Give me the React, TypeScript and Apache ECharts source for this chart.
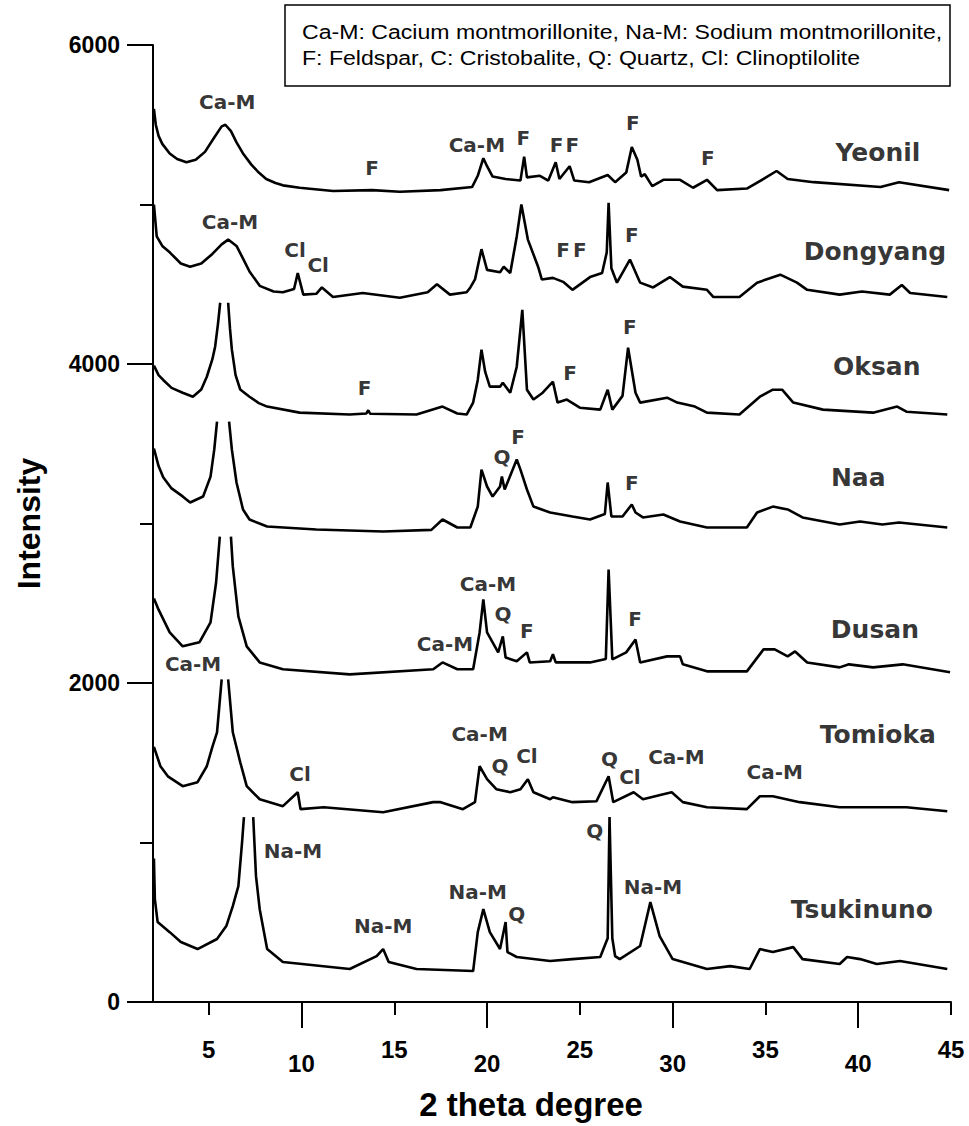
import React, { useEffect, useRef } from "react";
import * as echarts from "echarts";

const FONT = "'Liberation Sans', Arial, Helvetica, sans-serif";
const LABEL_FONT = "'DejaVu Sans', 'Liberation Sans', Arial, sans-serif";

type Pt = [number, number | null];

const yeonil: Pt[] = [
  [2.05, 5600], [2.15, 5500], [2.3, 5430], [2.5, 5380], [2.9, 5320], [3.3, 5285], [3.8, 5265], [4.3, 5280],
  [4.8, 5330], [5.3, 5420], [5.7, 5490], [5.9, 5500], [6.2, 5460], [6.5, 5390], [6.85, 5320],
  [7.3, 5250], [7.7, 5200], [8.1, 5160], [8.6, 5135], [9.0, 5120], [9.9, 5105], [11.7, 5085], [13.8, 5090], [15.3, 5080],
  [17.5, 5090], [19.2, 5110], [19.5, 5180], [19.8, 5290], [20.0, 5240], [20.3, 5175], [21.0, 5160],
  [21.8, 5150], [22.0, 5300], [22.15, 5170], [22.85, 5180], [23.3, 5150], [23.7, 5265], [23.9, 5160],
  [24.45, 5240], [24.7, 5150], [25.5, 5140], [26.5, 5185], [26.9, 5140], [27.5, 5200], [27.8, 5360],
  [28.1, 5280], [28.3, 5175], [28.5, 5190], [28.9, 5115], [29.5, 5155], [30.4, 5155], [31.1, 5105],
  [31.85, 5155], [32.4, 5090], [34.0, 5100], [34.9, 5160], [35.6, 5210], [36.2, 5160], [37.6, 5140],
  [41.2, 5110], [42.2, 5140], [44.9, 5090],
];

const dongyang: Pt[] = [
  [2.05, 5000], [2.2, 4800], [2.5, 4740], [2.9, 4700], [3.5, 4630], [4.0, 4610], [4.6, 4630], [5.2, 4690],
  [5.7, 4750], [6.05, 4780], [6.5, 4740], [6.9, 4650], [7.2, 4580], [7.75, 4490], [8.5, 4455], [9.0, 4450],
  [9.6, 4470], [9.8, 4570], [10.1, 4435], [10.8, 4440], [11.1, 4480], [11.7, 4420], [13.3, 4445],
  [15.3, 4415], [16.8, 4450], [17.3, 4500], [18.0, 4435], [18.9, 4450], [19.1, 4480], [19.35, 4530],
  [19.7, 4720], [20.0, 4590], [20.7, 4575], [20.9, 4610], [21.25, 4570], [21.6, 4800], [21.85, 5000],
  [22.2, 4780], [22.75, 4610], [22.95, 4530], [23.55, 4540], [24.1, 4515], [24.6, 4465], [25.55, 4545],
  [26.2, 4570], [26.45, 4700], [26.55, 5010], [26.7, 4600], [27.0, 4510], [27.7, 4655], [28.25, 4510],
  [28.95, 4480], [29.85, 4545], [30.55, 4485], [31.85, 4465], [32.2, 4420], [33.6, 4420], [34.55, 4510],
  [35.8, 4560], [36.7, 4510], [37.25, 4465], [39.0, 4435], [40.2, 4455], [41.7, 4435], [42.35, 4495],
  [42.8, 4445], [44.8, 4420],
];

const oksan: Pt[] = [
  [2.05, 3990], [2.3, 3930], [2.55, 3900], [3.0, 3850], [3.6, 3820], [4.15, 3795], [4.6, 3840], [4.9, 3920],
  [5.2, 4030], [5.35, 4110], [5.5, 4250], [5.62, 4384], [5.8, null], [6.05, 4384], [6.15, 4220],
  [6.25, 4090], [6.45, 3930], [6.7, 3840], [7.2, 3795], [7.7, 3755], [8.15, 3733], [9.9, 3695], [12.6, 3683],
  [13.5, 3690], [13.6, 3710], [13.7, 3688], [16.2, 3683], [17.6, 3733], [18.4, 3690], [18.9, 3683],
  [19.25, 3758], [19.5, 3900], [19.7, 4090], [19.9, 3950], [20.15, 3858], [20.7, 3858], [20.85, 3883],
  [21.25, 3820], [21.6, 3983], [21.9, 4340], [22.15, 3839], [22.5, 3777], [23.0, 3820], [23.55, 3889],
  [23.8, 3758], [24.3, 3777], [25.0, 3726], [26.1, 3714], [26.5, 3839], [26.75, 3714], [27.3, 3800],
  [27.6, 4102], [28.0, 3820], [28.25, 3758], [29.7, 3789], [30.25, 3758], [31.2, 3733], [31.85, 3695],
  [33.6, 3683], [34.7, 3795], [35.4, 3839], [35.9, 3839], [36.5, 3758], [38.1, 3714], [40.8, 3695],
  [42.1, 3733], [42.6, 3701], [44.8, 3683],
];

const naa: Pt[] = [
  [2.05, 3470], [2.3, 3360], [2.55, 3290], [3.0, 3220], [3.6, 3170], [4.0, 3132], [4.7, 3169], [5.1, 3294], [5.3, 3463],
  [5.45, 3639], [5.8, null], [6.1, 3639], [6.25, 3463], [6.5, 3257], [6.85, 3088], [7.2, 3025],
  [8.15, 2981], [10.8, 2962], [14.4, 2950], [17.0, 2960], [17.6, 3025], [18.4, 2975], [19.1, 2975],
  [19.5, 3106], [19.7, 3338], [20.0, 3232], [20.3, 3169], [20.7, 3232], [20.8, 3294], [20.95, 3213],
  [21.6, 3401], [21.8, 3338], [22.15, 3213], [22.5, 3106], [23.4, 3069], [24.6, 3044], [25.55, 3025],
  [26.35, 3060], [26.5, 3257], [26.7, 3044], [27.3, 3044], [27.8, 3119], [28.0, 3069], [28.4, 3038],
  [29.5, 3056], [30.4, 3013], [31.85, 2975], [34.0, 2975], [34.55, 3069], [35.4, 3106], [36.2, 3088],
  [37.0, 3038], [39.0, 2994], [40.1, 3013], [41.3, 2994], [42.2, 3006], [44.8, 2975],
];

const dusan: Pt[] = [
  [2.05, 2530], [2.3, 2460], [2.9, 2317], [3.6, 2230], [4.5, 2255], [5.1, 2380], [5.4, 2630],
  [5.6, 2918], [5.9, null], [6.2, 2918], [6.3, 2731], [6.6, 2418], [7.05, 2230], [7.75, 2129],
  [9.0, 2086], [12.6, 2054], [17.1, 2086], [17.6, 2129], [18.4, 2086], [19.25, 2086], [19.6, 2317],
  [19.8, 2524], [20.0, 2317], [20.6, 2192], [20.85, 2292], [21.0, 2160], [21.6, 2136], [22.15, 2192],
  [22.3, 2129], [23.4, 2136], [23.55, 2180], [23.7, 2129], [25.55, 2129], [26.4, 2150], [26.55, 2712],
  [26.75, 2148], [27.5, 2192], [28.0, 2273], [28.25, 2129], [29.7, 2167], [30.4, 2167], [30.55, 2117],
  [31.85, 2073], [34.0, 2073], [34.9, 2211], [35.5, 2211], [36.2, 2167], [36.6, 2198], [37.25, 2129],
  [39.0, 2098], [39.5, 2117], [40.8, 2098], [42.4, 2117], [44.95, 2067],
];

const tomioka: Pt[] = [
  [2.05, 1600], [2.4, 1478], [2.8, 1415], [3.6, 1353], [4.4, 1378], [4.9, 1478], [5.2, 1600],
  [5.45, 1691], [5.7, 2023], [5.9, null], [6.05, 2023], [6.3, 1691], [6.7, 1503], [7.05, 1353],
  [7.75, 1271], [9.0, 1228], [9.8, 1315], [9.95, 1209], [11.2, 1221], [14.4, 1190], [17.1, 1253],
  [17.5, 1253], [18.7, 1209], [19.35, 1253], [19.6, 1478], [20.0, 1397], [20.5, 1334], [21.25, 1315],
  [21.8, 1334], [22.2, 1397], [22.5, 1315], [23.4, 1271], [23.55, 1284], [24.6, 1253], [25.9, 1259],
  [26.55, 1415], [26.8, 1253], [27.9, 1315], [28.4, 1271], [29.5, 1303], [29.95, 1315], [30.55, 1253],
  [31.85, 1221], [34.0, 1209], [34.7, 1290], [35.4, 1290], [36.85, 1253], [39.0, 1221], [42.6, 1221],
  [44.8, 1196],
];

const tsukinuno: Pt[] = [
  [2.05, 900], [2.1, 645], [2.25, 501], [2.9, 438], [3.5, 376], [4.4, 332], [5.45, 395], [5.95, 476],
  [6.3, 601], [6.6, 727], [6.8, 1002], [6.9, 1159], [7.15, null], [7.4, 1159], [7.55, 789], [7.75, 582],
  [8.15, 332], [9.0, 251], [12.6, 207], [14.05, 288], [14.4, 332], [14.7, 251], [16.2, 207], [19.25, 194],
  [19.5, 438], [19.8, 582], [20.15, 438], [20.7, 332], [21.0, 501], [21.1, 313], [21.6, 282],
  [23.4, 257], [24.6, 269], [26.1, 282], [26.5, 400], [26.6, 1159], [26.75, 400], [26.9, 288],
  [27.15, 269], [28.25, 351], [28.8, 626], [29.3, 413], [30.0, 269], [31.85, 207], [33.1, 225],
  [34.15, 207], [34.7, 332], [35.4, 313], [36.5, 344], [37.0, 269], [39.0, 238], [39.4, 282],
  [40.1, 269], [41.0, 238], [42.25, 257], [44.8, 207],
];

// [2theta, intensity, text]
const peakLabels: [number, number, string][] = [
  [6.0, 5643, "Ca-M"], [13.8, 5230, "F"], [19.45, 5374, "Ca-M"], [21.95, 5417, "F"],
  [23.75, 5374, "F"], [24.6, 5374, "F"], [27.86, 5511, "F"], [31.9, 5292, "F"],
  [6.15, 4891, "Ca-M"], [9.65, 4716, "Cl"], [10.9, 4622, "Cl"], [24.1, 4716, "F"],
  [25.0, 4716, "F"], [27.8, 4810, "F"],
  [13.4, 3852, "F"], [24.47, 3946, "F"], [27.7, 4234, "F"],
  [20.8, 3420, "Q"], [21.67, 3545, "F"], [27.8, 3257, "F"],
  [17.73, 2242, "Ca-M"], [20.05, 2618, "Ca-M"], [20.86, 2430, "Q"], [22.15, 2324, "F"],
  [27.97, 2399, "F"],
  [4.16, 2117, "Ca-M"], [9.92, 1428, "Cl"], [19.6, 1678, "Ca-M"], [20.7, 1478, "Q"],
  [22.15, 1541, "Cl"], [26.6, 1522, "Q"], [27.7, 1409, "Cl"], [30.2, 1534, "Ca-M"],
  [35.5, 1440, "Ca-M"],
  [9.54, 946, "Na-M"], [14.4, 476, "Na-M"], [19.5, 689, "Na-M"], [21.6, 551, "Q"],
  [25.8, 1071, "Q"], [28.94, 720, "Na-M"],
];

const sampleLabels: [number, number, string][] = [
  [41.06, 5324, "Yeonil"], [40.9, 4703, "Dongyang"], [41.0, 3983, "Oksan"], [40.0, 3288, "Naa"],
  [40.9, 2336, "Dusan"], [41.06, 1678, "Tomioka"], [40.2, 582, "Tsukinuno"],
];

const legendLines = [
  "Ca-M: Cacium montmorillonite, Na-M: Sodium montmorillonite,",
  "F: Feldspar, C: Cristobalite, Q: Quartz, Cl: Clinoptilolite",
];

const xLabelsOdd = [5, 15, 25, 35, 45];
const xLabelsEven = [10, 20, 30, 40];

const curves: [string, Pt[]][] = [
  ["Yeonil", yeonil], ["Dongyang", dongyang], ["Oksan", oksan], ["Naa", naa],
  ["Dusan", dusan], ["Tomioka", tomioka], ["Tsukinuno", tsukinuno],
];

export default function App() {
  const ref = useRef<HTMLDivElement>(null);
  useEffect(() => {
    if (!ref.current) return;
    const chart = echarts.init(ref.current, undefined, { renderer: "svg" });
    const axisCommon = {
      type: "value" as const,
      min: 2,
      max: 45,
      position: "bottom" as const,
      splitLine: { show: false },
    };
    const option: any = {
      animation: false,
      backgroundColor: "#fff",
      grid: { left: 153, right: 18, top: 45, bottom: 123, containLabel: false },
      xAxis: [
        {
          ...axisCommon,
          name: "2 theta degree",
          nameLocation: "middle",
          nameGap: 86,
          nameTextStyle: {
            fontFamily: FONT, fontWeight: "bold", fontSize: 33, color: "#000",
            padding: [0, 42, 0, 0],
          },
          axisLine: { show: true, lineStyle: { color: "#000", width: 2 } },
          axisTick: { show: true, length: 13, customValues: xLabelsOdd, lineStyle: { color: "#000", width: 2 } },
          axisLabel: {
            show: true, customValues: xLabelsOdd, margin: 35,
            fontFamily: FONT, fontWeight: "bold", fontSize: 24, color: "#000",
          },
        },
        {
          ...axisCommon,
          axisLine: { show: false },
          axisTick: { show: true, length: 26, customValues: xLabelsEven, lineStyle: { color: "#000", width: 2 } },
          axisLabel: {
            show: true, customValues: xLabelsEven, margin: 49,
            fontFamily: FONT, fontWeight: "bold", fontSize: 24, color: "#000",
          },
        },
      ],
      yAxis: {
        type: "value",
        min: 0,
        max: 6000,
        interval: 2000,
        name: "Intensity",
        nameLocation: "middle",
        nameGap: 108,
        nameTextStyle: { fontFamily: FONT, fontWeight: "bold", fontSize: 32, color: "#000" },
        splitLine: { show: false },
        axisLine: { show: true, lineStyle: { color: "#000", width: 2 } },
        axisTick: { show: true, length: 26, lineStyle: { color: "#000", width: 2 } },
        minorTick: { show: true, splitNumber: 2, length: 13, lineStyle: { color: "#000", width: 2 } },
        axisLabel: {
          margin: 33, fontFamily: FONT, fontWeight: "bold", fontSize: 23, color: "#000",
          formatter: (v: number) => String(v),
        },
      },
      series: [
        ...curves.map(([name, data]) => ({
          type: "line",
          name,
          data,
          xAxisIndex: 0,
          showSymbol: false,
          symbol: "none",
          connectNulls: false,
          lineStyle: { color: "#000", width: 2.6 },
          z: 2,
        })),
        {
          type: "scatter",
          name: "peaks",
          xAxisIndex: 0,
          symbolSize: 1,
          itemStyle: { color: "rgba(0,0,0,0)" },
          data: peakLabels.map(([x, y, t]) => ({ value: [x, y], name: t })),
          label: {
            show: true, position: "inside", formatter: (p: any) => p.name,
            fontFamily: LABEL_FONT, fontWeight: "bold", fontSize: 20, color: "#000",
          },
          z: 3,
        },
        {
          type: "scatter",
          name: "samples",
          xAxisIndex: 0,
          symbolSize: 1,
          itemStyle: { color: "rgba(0,0,0,0)" },
          data: sampleLabels.map(([x, y, t]) => ({ value: [x, y], name: t })),
          label: {
            show: true, position: "inside", formatter: (p: any) => p.name,
            fontFamily: LABEL_FONT, fontWeight: "bold", fontSize: 25, color: "#000",
          },
          z: 3,
        },
      ],
      graphic: [
        {
          type: "rect",
          shape: { x: 285, y: 5, width: 665, height: 81 },
          style: { fill: "#fff", stroke: "#000", lineWidth: 1.5 },
          z: 10,
        },
        ...legendLines.map((t, i) => ({
          type: "text",
          x: 302,
          y: 32 + i * 26,
          scaleX: 1.1,
          style: {
            text: t, fontFamily: FONT, fontSize: 21, fill: "#000",
            verticalAlign: "middle", align: "left",
          },
          z: 11,
        })),
      ],
    };
    chart.setOption(option);
    return () => chart.dispose();
  }, []);
  return (
    <div
      ref={ref}
      style={{ position: "fixed", left: 0, top: 0, width: 969, height: 1126, background: "#fff" }}
    />
  );
}
